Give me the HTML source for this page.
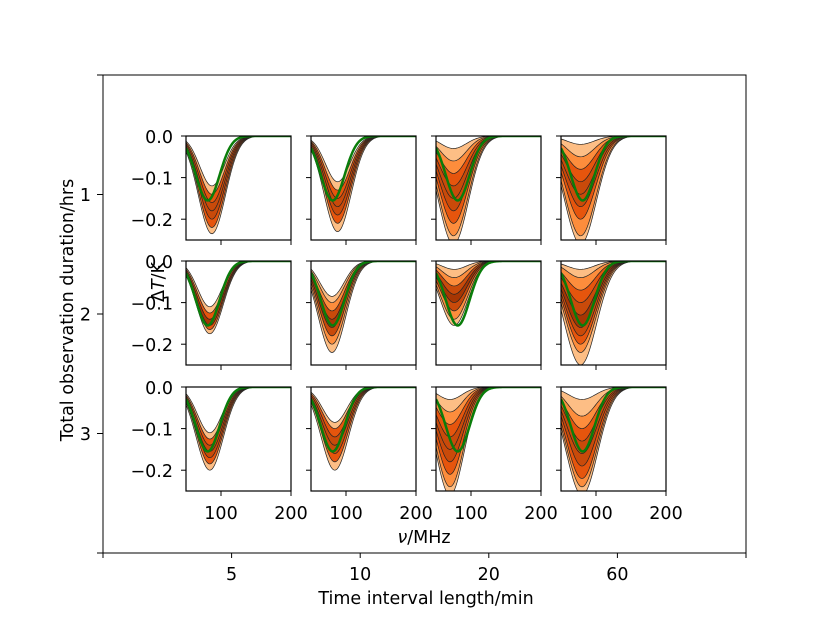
<!DOCTYPE html>
<html><head><meta charset="utf-8"><style>
body{margin:0;background:#fff}
svg text{font-family:"DejaVu Sans","Liberation Sans",sans-serif;fill:#000}
</style></head><body>
<svg id="chart" width="830" height="623" xmlns="http://www.w3.org/2000/svg">
<rect x="103" y="75" width="643" height="478" fill="none" stroke="#000" stroke-width="1"/>
<g id="outer"></g>
<g id="panels"></g>
<text x="426" y="604" font-size="17.5" text-anchor="middle">Time interval length/min</text>
<text x="73" y="310" font-size="17.5" text-anchor="middle" transform="rotate(-90 73 310)">Total observation duration/hrs</text>
<text x="424" y="543" font-size="17.5" text-anchor="middle"><tspan font-style="italic">ν</tspan>/MHz</text>
<text x="164" y="282" font-size="17.5" text-anchor="middle" transform="rotate(-90 164 282)">Δ<tspan font-style="italic">T</tspan>/K</text>
</svg>
<script>
const colLabels=["5","10","20","60"];
const rowLabels=["1","2","3"];
const xTicks=[100,200];
const yTicks=[0.0,-0.1,-0.2];
// per-panel posterior band amplitudes (K, outer to inner) and centres (MHz)
const centers=[[87,88,75,78],[84,80,76,78],[84,84,70,80]];
const widths=[[17,17,18,19],[17,17,17,19],[17,17,17,19]];
const levels=[
[[0.235,0.22,0.2,0.18,0.16,0.14,0.12],[0.23,0.21,0.19,0.17,0.15,0.13,0.11],[0.26,0.24,0.21,0.18,0.15,0.12,0.09,0.06,0.03],[0.26,0.24,0.2,0.17,0.14,0.11,0.08,0.05,0.02]],
[[0.175,0.165,0.155,0.14,0.125,0.11],[0.22,0.2,0.18,0.16,0.14,0.12,0.1,0.085],[0.155,0.14,0.12,0.1,0.08,0.06,0.04,0.02],[0.25,0.22,0.2,0.18,0.16,0.13,0.1,0.07,0.04,0.02]],
[[0.2,0.185,0.17,0.155,0.14,0.125,0.11],[0.2,0.18,0.16,0.14,0.12,0.1,0.085],[0.26,0.24,0.21,0.18,0.15,0.12,0.09,0.06,0.03],[0.26,0.24,0.22,0.19,0.16,0.13,0.1,0.07,0.03]]];
const trueAmp=0.155, trueCenter=81, trueWidth=17;

const NS="http://www.w3.org/2000/svg";
function mk(tag,attrs,parent){const e=document.createElementNS(NS,tag);for(const k in attrs)e.setAttribute(k,attrs[k]);parent.appendChild(e);return e;}
const outer=document.getElementById('outer');
const panels=document.getElementById('panels');
const colX=[186,311,436,561], rowY=[136,261,387], PW=105, PH=104;
const outerX=i=>103+(i+1)*643/5, outerY=i=>75+(i+1)*478/4;
for(let i=-1;i<=4;i++){const x=103+(i+1)*643/5;
 const t=mk('line',{x1:x,x2:x,y1:553,y2:558,stroke:'#000'},outer);
 
 }
colLabels.forEach((l,i)=>{const t=mk('text',{x:outerX(i),y:580,'font-size':17.5,'text-anchor':'middle'},outer);t.textContent=l;
 
 });
for(let i=-1;i<=3;i++){const y=75+(i+1)*478/4;
 const t=mk('line',{x1:97,x2:103,y1:y,y2:y,stroke:'#000'},outer);
 
 }
rowLabels.forEach((l,i)=>{const t=mk('text',{x:91,y:outerY(i)+6.5,'font-size':17.5,'text-anchor':'end'},outer);t.textContent=l;
 
 });

const pal=['#fee6ce','#fdbe85','#fd8d3c','#e6550d','#c94a0a','#a63603'];
function bandColor(i,n){const t=1-Math.abs(2*(i+0.5)/n-1);return pal[Math.min(5,Math.round(t*5))];}
for(let r=0;r<3;r++)for(let c=0;c<4;c++){
 const X0=colX[c],Y0=rowY[r];
 const sx=v=>X0+(v-50)/150*PW, sy=t=>Y0+(-t)/0.25*PH;
 const g=mk('g',{},panels);
 
 
 const cid='clip'+r+c;
 const cp=mk('clipPath',{id:cid},g);mk('rect',{x:X0,y:Y0,width:PW,height:PH},cp);
 const inner=mk('g',{'clip-path':'url(#'+cid+')'},g);
 const curve=(a,mu,s)=>{const pts=[];for(let v=50;v<=200;v+=1.5)pts.push([sx(v),sy(-a*Math.exp(-((v-mu)**2)/(2*s*s)))]);return pts;};
 const lv=levels[r][c],mu=centers[r][c],s=widths[r][c];
 for(let i=0;i<lv.length-1;i++){
  const a=curve(lv[i],mu,s*(1+0.02*(lv.length-i))),b=curve(lv[i+1],mu,s*(1+0.02*(lv.length-i-1))).reverse();
  const p=mk('polygon',{points:a.concat(b).map(q=>q.join(',')).join(' '),fill:bandColor(i,lv.length-1)},inner);
  
  
 }
 lv.forEach((a,i)=>{const pl=mk('polyline',{points:curve(a,mu,s*(1+0.02*(lv.length-i))).map(q=>q.join(',')).join(' '),fill:'none',stroke:'#222','stroke-width':0.7},inner);
  
  });
 const gl=mk('polyline',{points:curve(trueAmp,trueCenter,trueWidth).map(q=>q.join(',')).join(' '),fill:'none',stroke:'#0a7d0a','stroke-width':2.5},inner);
 
 
 const fr=mk('rect',{x:X0,y:Y0,width:PW,height:PH,fill:'none',stroke:'#000','stroke-width':1.2},g);
 
 
 xTicks.forEach(v=>{const t=mk('line',{x1:sx(v),x2:sx(v),y1:Y0+PH,y2:Y0+PH+5,stroke:'#000'},g);
  
  
  if(r===2){const l=mk('text',{x:sx(v),y:519,'font-size':17.5,'text-anchor':'middle'},g);l.textContent=String(v);
   
   }});
 yTicks.forEach(v=>{const t=mk('line',{x1:X0-5,x2:X0,y1:sy(v),y2:sy(v),stroke:'#000'},g);
  
  
  if(c===0){const l=mk('text',{x:X0-13,y:sy(v)+7,'font-size':17.5,'text-anchor':'end'},g);l.textContent=(v===0?'0.0':'\u2212'+Math.abs(v).toFixed(1));
   
   }});
}
</script>
</body></html>
